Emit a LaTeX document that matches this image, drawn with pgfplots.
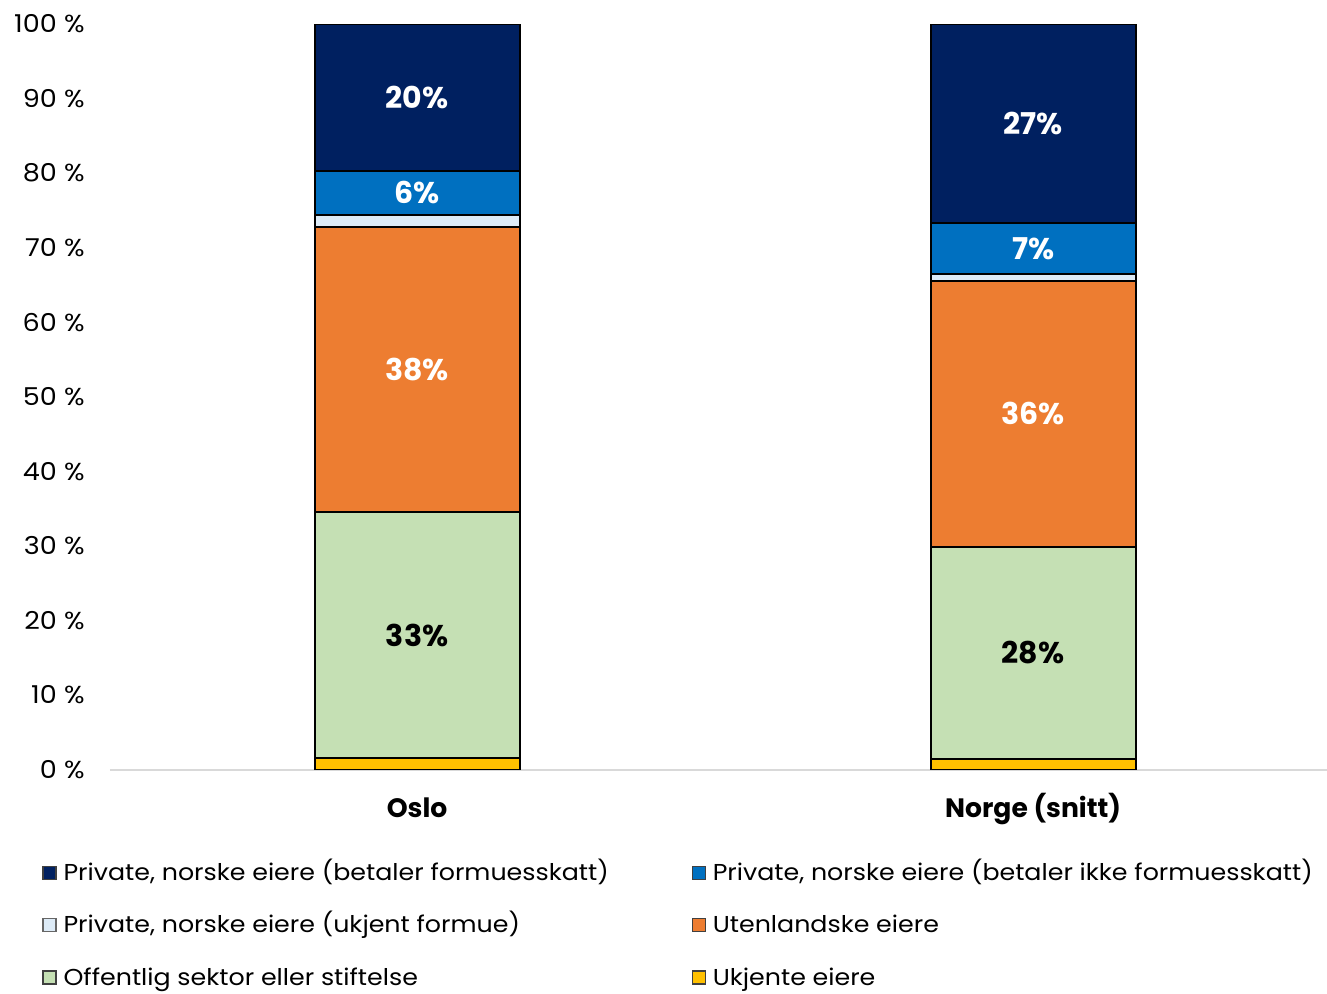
\documentclass[border=0pt]{standalone}
\usepackage{fontspec}
\setmainfont{Poppins}
\newfontfamily\reg[FakeStretch=1.1]{Poppins}
\usepackage{pgfplots}
\usepackage{pgfplotstable}
\pgfplotsset{compat=1.18}
\definecolor{cNavy}{HTML}{002060}
\definecolor{cBlue}{HTML}{0070C0}
\definecolor{cLight}{HTML}{DDEBF7}
\definecolor{cOrange}{HTML}{ED7D31}
\definecolor{cGreen}{HTML}{C5E0B4}
\definecolor{cYellow}{HTML}{FFC000}

\pgfplotstableread{
x yellow green orange light blue navy
0 1.55 32.95 38.30 1.60 5.90 19.70
1 1.40 28.45 35.70 0.95 6.80 26.70
}\data

\pgfplotsset{base/.style={
  at={(0pt,0pt)}, anchor=south west,
  scale only axis, width=608.5pt, height=372.75pt,
  xmin=-0.4984, xmax=1.477, ymin=0, ymax=100,
}}
\begin{document}
\begin{tikzpicture}
\begin{axis}[base,
  ybar stacked, bar width=102.5pt,
  axis x line*=bottom, axis y line*=left,
  x axis line style={-, draw=black!15, line width=1pt},
  y axis line style={-, draw=none},
  major tick length=0pt,
  xtick={0,1}, xticklabels={Oslo, Norge (snitt)},
  xticklabel style={font=\bfseries\fontsize{13.3}{16}\selectfont, anchor=base, yshift=-24pt},
  ytick={0,10,...,100},
  /pgf/number format/assume math mode=true,
  yticklabel={\pgfmathprintnumber{\tick}~\%},
  yticklabel style={font=\reg\fontsize{12.3}{14}\selectfont, anchor=east, inner sep=0pt, xshift=-12.5pt},
]
\addplot[fill=cYellow, draw=black, line width=1pt] table[x=x, y=yellow]{\data};
\addplot[fill=cGreen, draw=black, line width=1pt] table[x=x, y=green]{\data};
\addplot[fill=cOrange, draw=black, line width=1pt] table[x=x, y=orange]{\data};
\addplot[fill=cLight, draw=black, line width=1pt] table[x=x, y=light]{\data};
\addplot[fill=cBlue, draw=black, line width=1pt] table[x=x, y=blue]{\data};
\addplot[fill=cNavy, draw=black, line width=1pt] table[x=x, y=navy]{\data};
\end{axis}
\begin{axis}[base, hide axis,
  legend columns=2, legend cell align=left,
  legend image code/.code={\draw[#1] (0pt,-2.1pt) rectangle (6.5pt,4.4pt);},
  legend style={at={(axis description cs:0,0)}, anchor=north west,
    xshift=-34pt, yshift=-47.3pt, draw=none, fill=none, inner sep=0pt,
    column sep=0pt, row sep=15.7pt,
    nodes={inner sep=0pt, text height=8pt, text depth=2.5pt},
    font=\reg\fontsize{11.5}{13}\selectfont},
]
\addlegendimage{fill=cNavy, draw=black!75, line width=0.6pt}
\addlegendentry{\makebox[317.5pt][l]{\hspace{3.5pt}Private, norske eiere (betaler formuesskatt)}}
\addlegendimage{fill=cBlue, draw=black!75, line width=0.6pt}
\addlegendentry{\hspace{3.5pt}Private, norske eiere (betaler ikke formuesskatt)}
\addlegendimage{fill=cLight, draw=black!60, line width=0.6pt}
\addlegendentry{\makebox[317.5pt][l]{\hspace{3.5pt}Private, norske eiere (ukjent formue)}}
\addlegendimage{fill=cOrange, draw=black!75, line width=0.6pt}
\addlegendentry{\hspace{3.5pt}Utenlandske eiere}
\addlegendimage{fill=cGreen, draw=black!75, line width=0.6pt}
\addlegendentry{\makebox[317.5pt][l]{\hspace{3.5pt}Offentlig sektor eller stiftelse}}
\addlegendimage{fill=cYellow, draw=black!75, line width=0.6pt}
\addlegendentry{\hspace{3.5pt}Ukjente eiere}
\addplot[only marks, mark=*, mark size=0pt, mark options={draw=none, fill=none},
  nodes near coords, point meta=explicit symbolic,
  every node near coord/.append style={anchor=center, text=white,
    font=\bfseries\fontsize{15}{18}\selectfont}]
  coordinates {(0,90.15) [20\%] (0,77.35) [6\%] (0,53.65) [38\%]
               (1,86.65) [27\%] (1,69.90) [7\%] (1,47.80) [36\%]};
\addplot[only marks, mark=*, mark size=0pt, mark options={draw=none, fill=none},
  nodes near coords, point meta=explicit symbolic,
  every node near coord/.append style={anchor=center, text=black,
    font=\bfseries\fontsize{15}{18}\selectfont}]
  coordinates {(0,18.03) [33\%] (1,15.65) [28\%]};
\end{axis}
\pgfresetboundingbox
\useasboundingbox (-55pt,-111.75pt) rectangle (608.5pt,384.75pt);
\end{tikzpicture}
\end{document}
